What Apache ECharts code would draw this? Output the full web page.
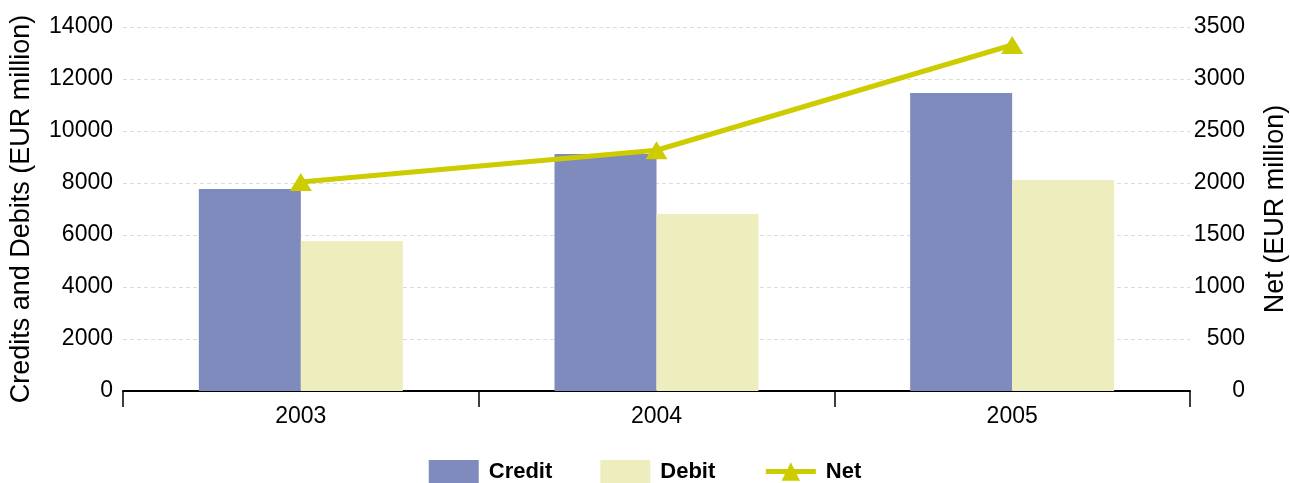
<!DOCTYPE html>
<html>
<head>
<meta charset="utf-8">
<script src="https://cdn.jsdelivr.net/npm/echarts@6/dist/echarts.min.js"></script>
<style>
  html, body { margin: 0; padding: 0; background: #fff; }
  #chart { width: 1290px; height: 483px; }
</style>
</head>
<body>
<div id="chart"></div>
<script>
// Yearly credits, debits and net balance (EUR million)
const years = ['2003', '2004', '2005'];
const credit = [7770, 9115, 11460];
const debit = [5770, 6810, 8115];
const net = [2010, 2315, 3327];

const FONT = '"Liberation Sans", Arial, sans-serif';
const plain = v => String(v);

const chart = echarts.init(document.getElementById('chart'));
chart.setOption({
  animation: false,
  textStyle: { fontFamily: FONT },
  grid: { left: 123, right: 100, top: 27, bottom: 92, containLabel: false, outerBoundsMode: 'none' },
  legend: {
    top: 455,
    left: 'center',
    itemGap: 48,
    itemWidth: 50,
    itemHeight: 23,
    textStyle: { fontFamily: FONT, fontSize: 22, fontWeight: 'bold', color: '#000', padding: [0, 0, 0, 5] },
    data: [
      { name: 'Credit', icon: 'rect' },
      { name: 'Debit', icon: 'rect' },
      { name: 'Net', lineStyle: { width: 5 } }
    ]
  },
  xAxis: {
    type: 'category',
    data: years,
    boundaryGap: true,
    axisLine: { lineStyle: { color: '#000', width: 2 } },
    axisTick: { show: true, length: 16, alignWithLabel: false, lineStyle: { color: '#000', width: 1.5 } },
    axisLabel: { fontFamily: FONT, fontSize: 23, color: '#000', margin: 14 }
  },
  yAxis: [
    {
      type: 'value',
      min: 0, max: 14000, interval: 2000,
      name: 'Credits and Debits (EUR million)',
      nameLocation: 'middle',
      nameRotate: 90,
      nameGap: 88,
      nameTextStyle: { fontFamily: FONT, fontSize: 27, color: '#000' },
      axisLine: { show: false },
      axisTick: { show: false },
      axisLabel: { fontFamily: FONT, fontSize: 23, color: '#000', margin: 10, formatter: plain },
      splitLine: { lineStyle: { color: '#dcdcdc', type: [4, 3], width: 1 } }
    },
    {
      type: 'value',
      min: 0, max: 3500, interval: 500,
      position: 'right',
      name: 'Net (EUR million)',
      nameLocation: 'middle',
      nameRotate: 90,
      nameGap: 72,
      nameTextStyle: { fontFamily: FONT, fontSize: 27, color: '#000' },
      axisLine: { show: false },
      axisTick: { show: false },
      axisLabel: { fontFamily: FONT, fontSize: 23, color: '#000', margin: 55, align: 'right', formatter: plain },
      splitLine: { show: false }
    }
  ],
  series: [
    {
      name: 'Credit', type: 'bar', data: credit, yAxisIndex: 0,
      barWidth: 102, barGap: '0%',
      itemStyle: { color: '#7F8ABD' }
    },
    {
      name: 'Debit', type: 'bar', data: debit, yAxisIndex: 0,
      barWidth: 102, barGap: '0%',
      itemStyle: { color: '#EEEDBE' }
    },
    {
      name: 'Net', type: 'line', data: net, yAxisIndex: 1,
      symbol: 'triangle', symbolSize: [22, 18],
      lineStyle: { color: '#CCCC00', width: 5 },
      itemStyle: { color: '#CCCC00' },
      z: 5
    }
  ]
});
</script>
</body>
</html>
